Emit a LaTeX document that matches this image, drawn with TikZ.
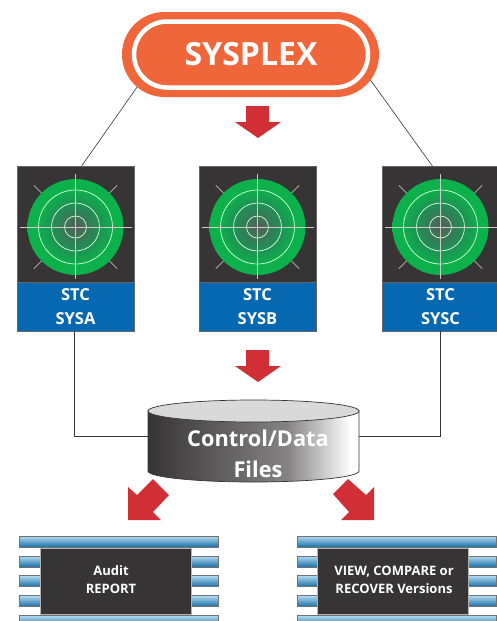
\documentclass[tikz,border=0pt]{standalone}
\usepackage{fontspec}
\setmainfont{Open Sans}
\usetikzlibrary{shapes.misc,positioning,calc}

\definecolor{sysorange}{HTML}{EF663B}
\definecolor{arrowred}{HTML}{D12F36}
\definecolor{panel}{HTML}{373435}
\definecolor{stcblue}{HTML}{0568B0}
\definecolor{radargreen}{HTML}{0DB14B}
\definecolor{radarmid}{HTML}{1F9055}
\definecolor{radarcore}{HTML}{565E5A}
\definecolor{barlight}{HTML}{B4DCF0}
\definecolor{bardark}{HTML}{1A6FA8}
\definecolor{diskmid}{HTML}{858384}

\pgfdeclareradialshading{radar}{\pgfpointorigin}{%
  color(0bp)=(radarcore); color(12bp)=(radarmid); color(20bp)=(radargreen); color(50bp)=(radargreen)}
\pgfdeclarehorizontalshading{disk}{100bp}{%
  color(0bp)=(panel); color(25bp)=(panel); color(58bp)=(diskmid); color(73bp)=(white); color(100bp)=(white)}

\begin{document}
\begin{tikzpicture}[
    x=1pt, y=-1pt,
    every node/.style={inner sep=0pt, outer sep=0pt},
    panelbox/.style={rectangle, draw=black!60, line width=0.6pt, fill=panel, minimum width=117pt, minimum height=116pt},
    namebox/.style={rectangle, draw=black!60, line width=0.6pt, fill=stcblue, text=white, font=\bfseries\fontsize{16.5}{24}\selectfont, align=center, minimum width=117pt, minimum height=49pt},
    reportbox/.style={rectangle, draw=black!30, line width=0.6pt, fill=panel, minimum width=151pt, minimum height=66pt},
    reporttext/.style={text=white, align=center, font=\bfseries\fontsize{13}{18}\selectfont},
    barbox/.style={rectangle, draw=panel!70, line width=0.9pt, top color=barlight, bottom color=bardark, minimum width=199pt, minimum height=11pt},
    link/.style={draw=panel, line width=0.6pt},
    redarrow/.style={fill=arrowred, draw=none}
]
    \useasboundingbox (0,0) rectangle (496,621);
    \fill[white] (0,0) rectangle (496,621);

    % top node
    \node[rounded rectangle, fill=sysorange, minimum width=257pt, minimum height=85pt] (sysplex) at (250.5,54.5) {};
    \node[rounded rectangle, draw=white, line width=4.5pt, fill=sysorange, minimum width=234pt, minimum height=66pt,
        text=white, font=\bfseries\fontsize{32}{36}\selectfont] (sysplexin) at (251,54.5) {SYSPLEX};

    % the three systems
    \foreach \name/\cx in {A/75.5, B/257.5, C/440.5} {
        \node[panelbox] (radar\name) at (\cx,224) {};
        \node[namebox, below=0pt of radar\name] (stc\name) {STC\\SYS\name};
        \coordinate (hub\name) at (\cx,227);
        \foreach \ang in {45,135,225,315}
            \draw[white!85!black, line width=0.6pt] (hub\name) ++(\ang:48) -- ++(\ang:11);
        \shade[shading=radar] (hub\name) circle[radius=48];
        \foreach \rad in {11,24,37}
            \draw[white!85!green, line width=0.7pt] (hub\name) circle[radius=\rad];
        \draw[white!80!black, line width=0.6pt] ($(hub\name)+(-56,0)$) -- ($(hub\name)+(56,0)$);
        \draw[white!80!black, line width=0.6pt] ($(hub\name)+(0,-53)$) -- ($(hub\name)+(0,52)$);
    }

    % disk
    \node[minimum width=211pt, minimum height=72pt] (files) at (253.5,436) {};
    \draw[link] (stcA.south -| 74,0) |- (files.west);
    \draw[link] (stcC.south) |- (files.east);
    \draw[link] (sysplex.196) -- (radarA.84);
    \draw[link] (sysplex.-12) -- (radarC.98);

    \path[shading=disk, draw=panel, line width=0.7pt]
        (148,411) -- (148,471) arc[start angle=180, end angle=0, x radius=105.5, y radius=11] -- (359,411) -- cycle;
    \draw[fill=black!15, draw=panel, line width=0.7pt] (253.5,411) ellipse[x radius=105.5, y radius=11];
    \node[text=white, font=\bfseries\fontsize{21.8}{31}\selectfont, align=center] (filestext) at (258,453.5) {Control/Data\\Files};

    % arrows
    \fill[redarrow] (246,106) -- (269,106) -- (269,122) -- (281,122) -- (258,138) -- (235,122) -- (246,122) -- cycle;
    \fill[redarrow] (246,350) -- (269,350) -- (269,366) -- (281,366) -- (258,382) -- (235,366) -- (246,366) -- cycle;
    \fill[redarrow] (153,479) -- (169,495) -- (153,512) -- (161,520) -- (128,520) -- (128,487) -- (137,495) -- cycle;
    \fill[redarrow] (348,479) -- (333,494) -- (349,512) -- (341,520) -- (374,520) -- (374,487) -- (366,495) -- cycle;

    % output stacks
    \foreach \name/\cx/\bx/\tx/\txt in {left/119/115.5/111/{Audit\\REPORT}, right/396.5/393/394/{VIEW, COMPARE or\\RECOVER Versions}} {
        \foreach \yy in {541.5,561.5,581,601,621}
            \node[barbox] at (\cx,\yy) {};
        \node[reportbox] (report\name) at (\bx,581) {};
        \node[reporttext] (label\name) at (\tx,580) {\txt};
    }
\end{tikzpicture}
\end{document}
